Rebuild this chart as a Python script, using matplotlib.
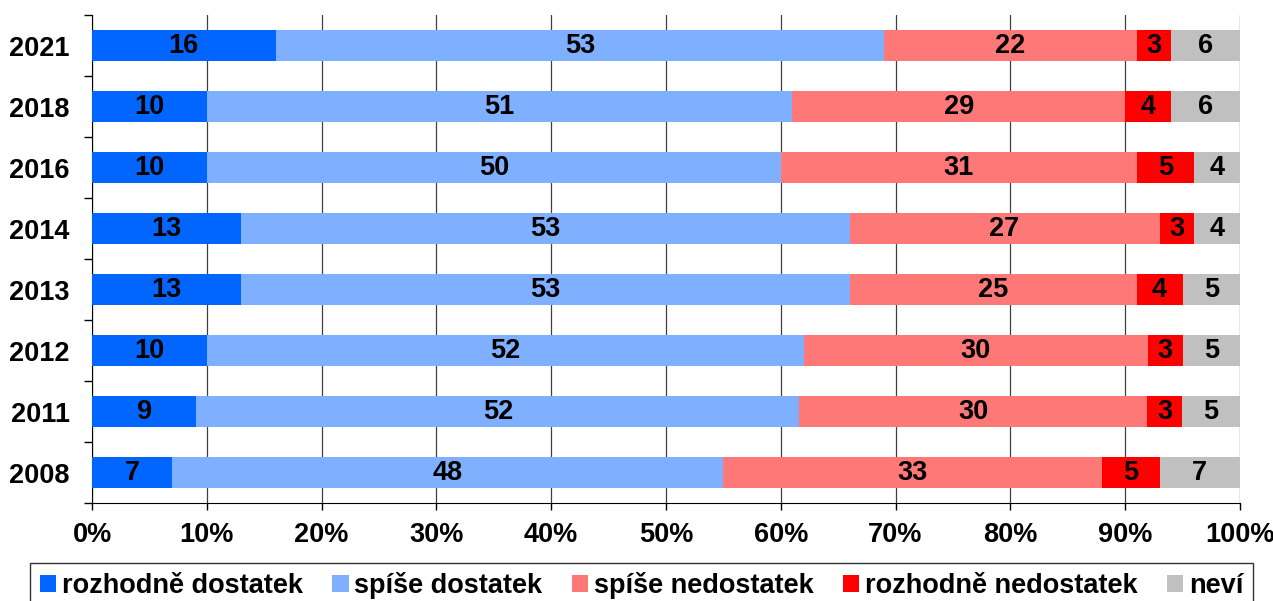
import matplotlib.pyplot as plt
import numpy as np

years = ['2021', '2018', '2016', '2014', '2013', '2012', '2011', '2008']
rozhodne_dostatek = [16, 10, 10, 13, 13, 10, 9, 7]
spise_dostatek = [53, 51, 50, 53, 53, 52, 52, 48]
spise_nedostatek = [22, 29, 31, 27, 25, 30, 30, 33]
rozhodne_nedostatek = [3, 4, 5, 3, 4, 3, 3, 5]
nevi = [6, 6, 4, 4, 5, 5, 5, 7]

labels = ['rozhodně dostatek', 'spíše dostatek', 'spíše nedostatek',
          'rozhodně nedostatek', 'neví']
colors = ['#0066FF', '#7FAFFF', '#FF7878', '#FF0000', '#C0C0C0']

plt.rcParams['font.family'] = ['Liberation Sans', 'DejaVu Sans']
plt.rcParams['font.weight'] = 'bold'
fontsize = 19.5

series = np.array([rozhodne_dostatek, spise_dostatek, spise_nedostatek,
                   rozhodne_nedostatek, nevi], dtype=float)
# bars are drawn as shares of 100 %
shares = series / series.sum(axis=0) * 100

fig = plt.figure(figsize=(12.73, 6.01), dpi=100)
ax = fig.add_axes([0.0723, 0.163, 0.9017, 0.812])

y = np.arange(len(years))
left = np.zeros(len(years))
for i in range(len(labels)):
    ax.barh(y, shares[i], left=left, height=0.5, color=colors[i],
            label=labels[i], zorder=3)
    for j in range(len(years)):
        ax.text(left[j] + shares[i][j] / 2, y[j], '%d' % series[i][j],
                ha='center', va='center', fontsize=fontsize,
                fontweight='bold', zorder=4)
    left += shares[i]

ax.set_xlim(0, 100)
ax.set_ylim(len(years) - 0.5, -0.5)
ax.set_xticks(np.arange(0, 101, 10))
ax.set_xticklabels(['%d%%' % v for v in range(0, 101, 10)],
                   fontsize=fontsize, fontweight='bold')
ax.set_yticks(y)
ax.set_yticklabels(years, fontsize=fontsize, fontweight='bold')
ax.set_yticks(np.arange(-0.5, len(years)), minor=True)
ax.tick_params(axis='y', which='major', length=0, pad=16)
ax.tick_params(axis='y', which='minor', length=6, width=1)
ax.tick_params(axis='x', length=5, width=1, pad=9)

ax.grid(axis='x', color='#404040', linewidth=0.9, zorder=0)
ax.spines['top'].set_visible(False)
ax.spines['right'].set_visible(False)

fig.legend(loc='upper center', bbox_to_anchor=(0.504, 0.064), ncol=5,
           fontsize=fontsize, frameon=True, fancybox=False, edgecolor='black',
           handlelength=0.6, handleheight=0.6, handletextpad=0.2,
           columnspacing=1.1, borderpad=0.35, borderaxespad=0)

fig.savefig('out.png', dpi=100)
